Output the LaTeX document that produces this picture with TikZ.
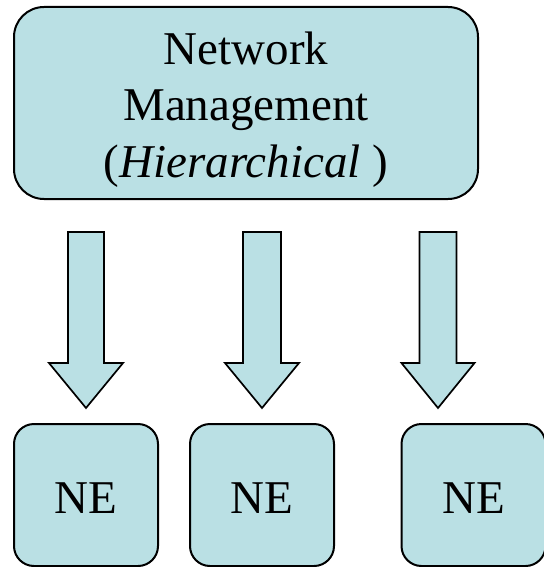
\documentclass[tikz,border=0pt]{standalone}
\usepackage{fontspec}
\setmainfont{Liberation Serif}
\definecolor{boxfill}{RGB}{186,224,228}
\begin{document}
\begin{tikzpicture}[x=1pt,y=-1pt,
  panel/.style={draw=black,line width=2pt,fill=boxfill,rounded corners=30pt,
    minimum width=464pt,minimum height=192pt,inner sep=0pt},
  nebox/.style={draw=black,line width=2pt,fill=boxfill,rounded corners=20pt,
    minimum width=144pt,minimum height=142pt,inner sep=0pt},
  bigtext/.style={font=\fontsize{47}{56.5}\selectfont,align=center,inner sep=0pt},
  blockarrow/.style={draw=black,line width=1.7pt,fill=boxfill,line join=miter}]
\useasboundingbox (0,0) rectangle (543,567);
\node[panel] (nm) at (246,103) {};
\node[bigtext,anchor=base] (nmtxt) at (246,177) {Network\\Management\\(\textit{Hierarchical} )};
\node[nebox] (ne1) at (86,495) {};
\node[nebox] (ne2) at (262,495) {};
\node[nebox] (ne3) at (473.5,495) {};
\node[bigtext,anchor=base] (ne1txt) at (86,513) {NE};
\node[bigtext,anchor=base] (ne2txt) at (262,513) {NE};
\node[bigtext,anchor=base] (ne3txt) at (474,513) {NE};
\foreach \c/\hw/\sw in {86/37/18, 262/37/19, 438/36.5/18.5}{
  \draw[blockarrow] (\c-\sw,232) -- (\c+\sw,232) -- (\c+\sw,363) -- (\c+\hw,363)
    -- (\c,408) -- (\c-\hw,363) -- (\c-\sw,363) -- cycle;
}
\end{tikzpicture}
\end{document}
